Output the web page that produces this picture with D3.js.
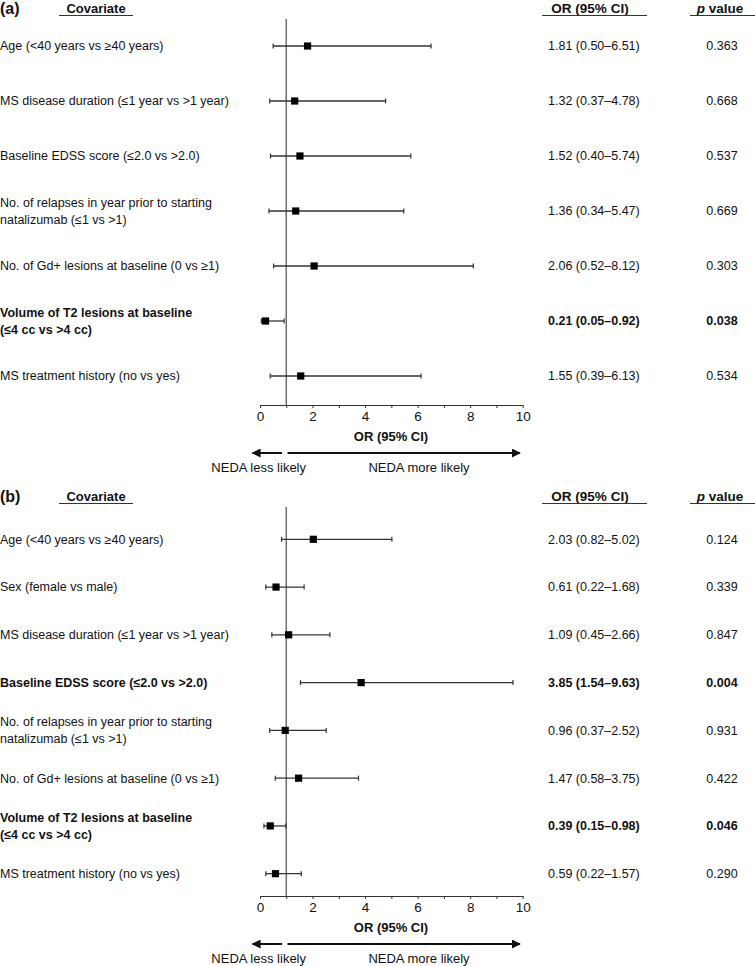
<!DOCTYPE html>
<html>
<head>
<meta charset="utf-8">
<script src="https://cdn.jsdelivr.net/npm/d3@7"></script>
<style>
  body { margin: 0; background: #fff; }
  text { font-family: "Liberation Sans", Arial, sans-serif; fill: #111; }
</style>
</head>
<body>
<script>
// Panel (a)
var labelsA = [
	'Age (<40 years vs \u226540 years)',
	'MS disease duration (\u22641 year vs >1 year)',
	'Baseline EDSS score (\u22642.0 vs >2.0)',
	['No. of relapses in year prior to starting', 'natalizumab (\u22641 vs >1)'],
	'No. of Gd+ lesions at baseline (0 vs \u22651)',
	['Volume of T2 lesions at baseline', '(\u22644 cc vs >4 cc)'],
	'MS treatment history (no vs yes)'
];
var orA = [1.81, 1.32, 1.52, 1.36, 2.06, 0.21, 1.55];
var loA = [0.50, 0.37, 0.40, 0.34, 0.52, 0.05, 0.39];
var hiA = [6.51, 4.78, 5.74, 5.47, 8.12, 0.92, 6.13];
var pA = ['0.363', '0.668', '0.537', '0.669', '0.303', '0.038', '0.534'];
var sigA = [false, false, false, false, false, true, false];

// Panel (b)
var labelsB = [
	'Age (<40 years vs \u226540 years)',
	'Sex (female vs male)',
	'MS disease duration (\u22641 year vs >1 year)',
	'Baseline EDSS score (\u22642.0 vs >2.0)',
	['No. of relapses in year prior to starting', 'natalizumab (\u22641 vs >1)'],
	'No. of Gd+ lesions at baseline (0 vs \u22651)',
	['Volume of T2 lesions at baseline', '(\u22644 cc vs >4 cc)'],
	'MS treatment history (no vs yes)'
];
var orB = [2.03, 0.61, 1.09, 3.85, 0.96, 1.47, 0.39, 0.59];
var loB = [0.82, 0.22, 0.45, 1.54, 0.37, 0.58, 0.15, 0.22];
var hiB = [5.02, 1.68, 2.66, 9.63, 2.52, 3.75, 0.98, 1.57];
var pB = ['0.124', '0.339', '0.847', '0.004', '0.931', '0.422', '0.046', '0.290'];
var sigB = [false, false, false, true, false, false, true, false];

var axisTicks = [0, 1, 2, 3, 4, 5, 6, 7, 8, 9, 10];

var svg = d3.select('body').append('svg')
	.attr('width', 755)
	.attr('height', 966);

var defs = svg.append('defs');
defs.append('marker')
	.attr('id', 'arrowhead')
	.attr('viewBox', '0 0 10 10')
	.attr('refX', 9).attr('refY', 5)
	.attr('markerWidth', 4.5).attr('markerHeight', 4.5)
	.attr('orient', 'auto-start-reverse')
	.append('path')
	.attr('d', 'M0,0 L10,5 L0,10 z')
	.attr('fill', '#111');

var x = d3.scaleLinear().domain([0, 10]).range([260, 522.7]);

function fmt(v) { return v.toFixed(2); }

function drawPanel(tag, labels, ors, los, his, ps, sig, top, firstRow, lastRow, axisY) {
	var rows = d3.range(labels.length);
	var y = d3.scaleLinear().domain([0, labels.length - 1]).range([firstRow, lastRow]);
	var g = svg.append('g');

	// headers
	g.append('text').attr('x', 0).attr('y', top).attr('dy', '0.35em')
		.style('font-size', '16px').style('font-weight', 'bold').text(tag);
	g.append('text').attr('x', 96).attr('y', top).attr('dy', '0.35em')
		.attr('text-anchor', 'middle').style('font-size', '13px').style('font-weight', 'bold').text('Covariate');
	g.append('text').attr('x', 590).attr('y', top).attr('dy', '0.35em')
		.attr('text-anchor', 'middle').style('font-size', '13.5px').style('font-weight', 'bold').text('OR (95% CI)');
	var ph = g.append('text').attr('x', 720).attr('y', top).attr('dy', '0.35em')
		.attr('text-anchor', 'middle').style('font-size', '13.5px').style('font-weight', 'bold');
	ph.append('tspan').style('font-style', 'italic').text('p');
	ph.append('tspan').text(' value');

	[[59, 133], [542, 647], [690, 755]].forEach(function(u) {
		g.append('line').attr('x1', u[0]).attr('x2', u[1])
			.attr('y1', top + 7.5).attr('y2', top + 7.5)
			.attr('stroke', '#333').attr('stroke-width', 1.2);
	});

	// reference line at OR = 1
	g.append('line')
		.attr('x1', x(1)).attr('x2', x(1))
		.attr('y1', top + 11).attr('y2', axisY)
		.attr('stroke', '#6e6e6e').attr('stroke-width', 1.5);

	// covariate labels
	var lab = g.selectAll('.lab').data(rows).enter().append('text')
		.attr('class', 'lab')
		.attr('x', 0)
		.style('font-size', '12.5px')
		.style('font-weight', function(i) { return sig[i] ? 'bold' : 'normal'; });
	lab.each(function(i) {
		var lines = Array.isArray(labels[i]) ? labels[i] : [labels[i]];
		var t = d3.select(this);
		lines.forEach(function(s, k) {
			t.append('tspan')
				.attr('x', 0)
				.attr('y', y(i) + (k - (lines.length - 1) / 2) * 16.6)
				.attr('dy', '0.35em')
				.text(s);
		});
	});

	// CI whiskers
	g.selectAll('.ci').data(rows).enter().append('line')
		.attr('x1', function(i) { return x(los[i]); })
		.attr('x2', function(i) { return x(his[i]); })
		.attr('y1', function(i) { return y(i); })
		.attr('y2', function(i) { return y(i); })
		.attr('stroke', '#333').attr('stroke-width', 1.3);
	[los, his].forEach(function(arr) {
		g.selectAll(null).data(rows).enter().append('line')
			.attr('x1', function(i) { return x(arr[i]); })
			.attr('x2', function(i) { return x(arr[i]); })
			.attr('y1', function(i) { return y(i) - 2.5; })
			.attr('y2', function(i) { return y(i) + 2.5; })
			.attr('stroke', '#333').attr('stroke-width', 1.2);
	});

	// point estimates
	g.selectAll('.pt').data(rows).enter().append('rect')
		.attr('x', function(i) { return x(ors[i]) - 3.6; })
		.attr('y', function(i) { return y(i) - 3.6; })
		.attr('width', 7.2).attr('height', 7.2)
		.attr('fill', '#000');

	// OR text and p values
	g.selectAll('.ortxt').data(rows).enter().append('text')
		.attr('x', 548).attr('y', function(i) { return y(i); }).attr('dy', '0.35em')
		.style('font-size', '12.5px')
		.style('font-weight', function(i) { return sig[i] ? 'bold' : 'normal'; })
		.text(function(i) { return fmt(ors[i]) + ' (' + fmt(los[i]) + '\u2013' + fmt(his[i]) + ')'; });
	g.selectAll('.ptxt').data(rows).enter().append('text')
		.attr('x', 722).attr('y', function(i) { return y(i); }).attr('dy', '0.35em')
		.attr('text-anchor', 'middle')
		.style('font-size', '12.5px')
		.style('font-weight', function(i) { return sig[i] ? 'bold' : 'normal'; })
		.text(function(i) { return ps[i]; });

	// x axis
	var ax = g.append('g')
		.attr('transform', 'translate(0,' + axisY + ')')
		.call(d3.axisBottom(x).tickValues(axisTicks).tickSize(3).tickSizeOuter(0)
			.tickFormat(function(d) { return d % 2 === 0 ? d : ''; }));
	ax.select('.domain').attr('stroke', '#333').attr('stroke-width', 1.2);
	ax.selectAll('.tick line').attr('stroke', '#333');
	ax.selectAll('.tick text')
		.style('font-family', '"Liberation Sans", Arial, sans-serif')
		.style('font-size', '13.5px').attr('fill', '#111');

	g.append('text').attr('x', 391).attr('y', axisY + 31).attr('dy', '0.35em')
		.attr('text-anchor', 'middle').style('font-size', '13px').style('font-weight', 'bold')
		.text('OR (95% CI)');

	// direction arrows
	g.append('line').attr('x1', 282).attr('x2', 252.5)
		.attr('y1', axisY + 48).attr('y2', axisY + 48)
		.attr('stroke', '#111').attr('stroke-width', 2)
		.attr('marker-end', 'url(#arrowhead)');
	g.append('line').attr('x1', 287.5).attr('x2', 520)
		.attr('y1', axisY + 48).attr('y2', axisY + 48)
		.attr('stroke', '#111').attr('stroke-width', 2)
		.attr('marker-end', 'url(#arrowhead)');
	g.append('text').attr('x', 306).attr('y', axisY + 62).attr('dy', '0.35em')
		.attr('text-anchor', 'end').style('font-size', '13px').text('NEDA less likely');
	g.append('text').attr('x', 419).attr('y', axisY + 62).attr('dy', '0.35em')
		.attr('text-anchor', 'middle').style('font-size', '13px').text('NEDA more likely');
}

drawPanel('(a)', labelsA, orA, loA, hiA, pA, sigA, 8, 46, 376, 405);
drawPanel('(b)', labelsB, orB, loB, hiB, pB, sigB, 496, 539.3, 873.7, 896);
</script>
</body>
</html>
